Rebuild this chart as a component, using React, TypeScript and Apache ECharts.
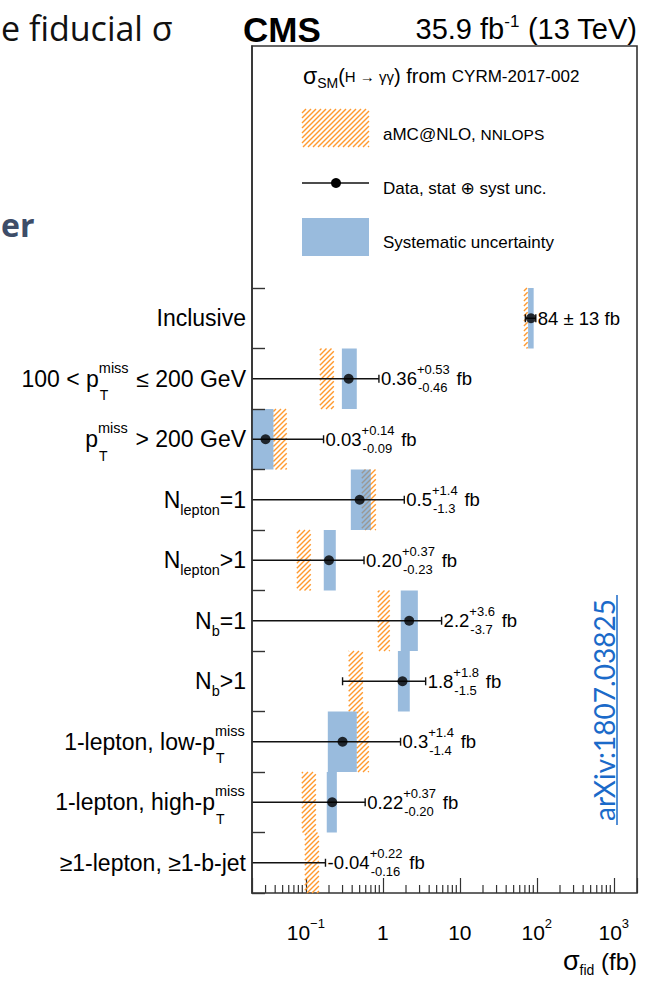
import React, { useEffect, useRef } from 'react';
import * as echarts from 'echarts';

const FONT = "'Liberation Sans', Arial, 'DejaVu Sans', sans-serif";
const SLIDE_FONT = "'Open Sans', Lato, sans-serif";

// ---------------- data ----------------
const legendRows = ['legend-title', 'legend-theory', 'legend-data', 'legend-syst'];
const categories = [
  'Inclusive',
  '100 < pTmiss ≤ 200 GeV',
  'pTmiss > 200 GeV',
  'Nlepton=1',
  'Nlepton>1',
  'Nb=1',
  'Nb>1',
  '1-lepton, low-pTmiss',
  '1-lepton, high-pTmiss',
  '≥1-lepton, ≥1-b-jet',
];
const categoryLabels = [
  '{m|Inclusive}',
  '{m|100 < p}{sp|miss}{st|T}{m| ≤ 200 GeV}',
  '{m|p}{sp|miss}{st|T}{m| > 200 GeV}',
  '{m|N}{sb|lepton}{m|=1}',
  '{m|N}{sb|lepton}{m|>1}',
  '{m|N}{sb|b}{m|=1}',
  '{m|N}{sb|b}{m|>1}',
  '{m|1-lepton, low-p}{sp|miss}{st|T}',
  '{m|1-lepton, high-p}{sp|miss}{st|T}',
  '{m|≥1-lepton, ≥1-b-jet}',
];
const measured = [84, 0.36, 0.03, 0.5, 0.2, 2.2, 1.8, 0.3, 0.22, -0.04];
const errUp = [13, 0.53, 0.14, 1.4, 0.37, 3.6, 1.8, 1.4, 0.37, 0.22];
const errDown = [13, 0.46, 0.09, 1.3, 0.23, 3.7, 1.5, 1.4, 0.2, 0.16];
const valueText = ['84', '0.36', '0.03', '0.5', '0.20', '2.2', '1.8', '0.3', '0.22', '-0.04'];
const upText = ['13', '+0.53', '+0.14', '+1.4', '+0.37', '+3.6', '+1.8', '+1.4', '+0.37', '+0.22'];
const downText = ['13', '-0.46', '-0.09', '-1.3', '-0.23', '-3.7', '-1.5', '-1.4', '-0.20', '-0.16'];
const symmetricLabel = [true, false, false, false, false, false, false, false, false, false];
const systLo = [77, 0.294, 0.01, 0.384, 0.171, 1.71, 1.57, 0.193, 0.187, null];
const systHi = [91, 0.459, 0.038, 0.698, 0.245, 2.85, 2.24, 0.459, 0.253, null];
const theoryLo = [68, 0.152, 0.038, 0.533, 0.0764, 0.86, 0.36, 0.459, 0.0887, 0.097];
const theoryHi = [76, 0.231, 0.0565, 0.811, 0.116, 1.23, 0.55, 0.658, 0.135, 0.148];
const majorExponents = [-1, 0, 1, 2, 3];
const majorLabels = ['{b|10}{sp|−1}', '{b|1}', '{b|10}', '{b|10}{sp|2}', '{b|10}{sp|3}'];
const minorTicks = [
  0.03, 0.04, 0.05, 0.06, 0.07, 0.08, 0.09,
  0.2, 0.3, 0.4, 0.5, 0.6, 0.7, 0.8, 0.9,
  2, 3, 4, 5, 6, 7, 8, 9,
  20, 30, 40, 50, 60, 70, 80, 90,
  200, 300, 400, 500, 600, 700, 800, 900,
];
const X_MIN = 0.02;
const X_MAX = 2000;

// ---------------- styles ----------------
const ORANGE = '#ff9a30';
const BLUE = 'rgba(98,151,203,0.65)';
const FRAME = '#333333';
const ARXIV_BLUE = '#1b6ac9';

const yCats = [...legendRows, ...categories];

function hatchSegments(x1: number, y1: number, x2: number, y2: number, step: number) {
  const segs: number[][] = [];
  const cStart = Math.ceil((x1 + y1) / step) * step;
  for (let c = cStart; c <= x2 + y2; c += step) {
    const sx = Math.max(x1, c - y2);
    const ex = Math.min(x2, c - y1);
    if (ex <= sx) continue;
    segs.push([sx, c - sx, ex, c - ex]);
  }
  return segs;
}
function hatchPath(x1: number, y1: number, x2: number, y2: number, step: number) {
  return hatchSegments(x1, y1, x2, y2, step)
    .map((s) => `M${s[0].toFixed(2)} ${s[1].toFixed(2)}L${s[2].toFixed(2)} ${s[3].toFixed(2)}`)
    .join('');
}

function valueLabel(i: number) {
  if (symmetricLabel[i]) return `{m|${valueText[i]} ± ${upText[i]} fb}`;
  return `{m|${valueText[i]}}{sp|${upText[i]}}{sb|${downText[i]}}{m|fb}`;
}

const VALUE_RICH = {
  m: { fontSize: 18.5, fontFamily: FONT, fill: '#000', lineHeight: 36, align: 'left' },
  sp: { fontSize: 13, fontFamily: FONT, fill: '#000', lineHeight: 36, height: 18, verticalAlign: 'top', width: 1, align: 'left' },
  sb: { fontSize: 13, fontFamily: FONT, fill: '#000', lineHeight: 36, height: 18, verticalAlign: 'bottom', align: 'left', padding: [0, 9, 0, 0] },
};

const Y_RICH = {
  m: { fontSize: 23, fontFamily: FONT, color: '#000', lineHeight: 56, align: 'left' },
  sp: { fontSize: 14.5, fontFamily: FONT, color: '#000', lineHeight: 56, height: 34, verticalAlign: 'top', width: 1, align: 'left' },
  st: { fontSize: 14, fontFamily: FONT, color: '#000', lineHeight: 56, height: 23, verticalAlign: 'bottom', width: 30, align: 'left' },
  sb: { fontSize: 14.5, fontFamily: FONT, color: '#000', lineHeight: 56, height: 36, verticalAlign: 'bottom', align: 'left' },
};

const X_RICH = {
  b: { fontSize: 21, fontFamily: FONT, color: '#000', lineHeight: 34 },
  sp: { fontSize: 13, fontFamily: FONT, color: '#000', lineHeight: 34, height: 17, verticalAlign: 'top' },
};

function legendHatch(x1: number, y1: number, x2: number, y2: number) {
  return hatchSegments(x1, y1, x2, y2, 5).map((s) => ({
    type: 'line',
    shape: { x1: s[0], y1: s[1], x2: s[2], y2: s[3] },
    style: { stroke: ORANGE, lineWidth: 1.4 },
  }));
}

function buildOption() {
  const bandHeight = (cs: any) => cs.height / yCats.length;

  const theorySeries = {
    type: 'custom',
    name: 'aMC@NLO, NNLOPS',
    z: 2,
    data: categories.map((c, i) => [theoryHi[i], c, theoryLo[i]]),
    encode: { x: 0, y: 1 },
    renderItem: (params: any, api: any) => {
      const cs = params.coordSys;
      const hi = api.value(0);
      const cat = api.value(1);
      const lo = api.value(2);
      const p = api.coord([hi, cat]);
      const xl = lo > X_MIN ? api.coord([lo, cat])[0] : cs.x;
      const bh = bandHeight(cs);
      return {
        type: 'path',
        shape: { pathData: hatchPath(xl, p[1] - bh / 2, p[0], p[1] + bh / 2, 5) },
        style: { fill: 'none', stroke: ORANGE, lineWidth: 1.4 },
      };
    },
  };

  const systSeries = {
    type: 'custom',
    name: 'Systematic uncertainty',
    z: 3,
    data: categories
      .map((c, i) => (systHi[i] == null ? null : [systHi[i], c, systLo[i]]))
      .filter((d) => d != null),
    encode: { x: 0, y: 1 },
    renderItem: (params: any, api: any) => {
      const cs = params.coordSys;
      const hi = api.value(0);
      const cat = api.value(1);
      const lo = api.value(2);
      const p = api.coord([hi, cat]);
      const xl = lo > X_MIN ? api.coord([lo, cat])[0] : cs.x;
      const bh = bandHeight(cs);
      return {
        type: 'rect',
        shape: { x: xl, y: p[1] - bh / 2, width: p[0] - xl, height: bh },
        style: { fill: BLUE },
      };
    },
  };

  const errorSeries = {
    type: 'custom',
    name: 'Data, stat ⊕ syst unc.',
    z: 4,
    data: categories.map((c, i) => [measured[i] + errUp[i], c, measured[i], errDown[i], i]),
    encode: { x: 0, y: 1 },
    renderItem: (params: any, api: any) => {
      const cs = params.coordSys;
      const hi = api.value(0);
      const cat = api.value(1);
      const val = api.value(2);
      const dn = api.value(3);
      const idx = api.value(4);
      const p = api.coord([hi, cat]);
      const lo = val - dn;
      const loIn = lo > X_MIN;
      const xl = loIn ? api.coord([lo, cat])[0] : cs.x;
      const lineStyle = { stroke: '#111', lineWidth: 1.4 };
      const children: any[] = [
        { type: 'line', shape: { x1: xl, y1: p[1], x2: p[0], y2: p[1] }, style: lineStyle },
        { type: 'line', shape: { x1: p[0], y1: p[1] - 4, x2: p[0], y2: p[1] + 4 }, style: lineStyle },
      ];
      if (loIn) {
        children.push({ type: 'line', shape: { x1: xl, y1: p[1] - 4, x2: xl, y2: p[1] + 4 }, style: lineStyle });
      }
      children.push({
        type: 'text',
        x: p[0] + 2,
        y: p[1],
        style: {
          text: valueLabel(idx),
          rich: VALUE_RICH,
          fill: '#000',
          fontSize: 18.5,
          fontFamily: FONT,
          align: 'left',
          verticalAlign: 'middle',
        },
      });
      return { type: 'group', children };
    },
  };

  const pointSeries = {
    type: 'scatter',
    name: 'Data',
    z: 5,
    symbol: 'circle',
    symbolSize: 10,
    itemStyle: { color: '#000' },
    data: categories.map((c, i) => [measured[i], c]).filter((d) => (d[0] as number) > 0),
  };

  const minorTickSeries = {
    type: 'custom',
    name: 'minor ticks',
    z: 6,
    silent: true,
    data: minorTicks.map((v) => [v, categories[0]]),
    encode: { x: 0, y: 1 },
    renderItem: (params: any, api: any) => {
      const cs = params.coordSys;
      const x = api.coord([api.value(0), api.value(1)])[0];
      const bottom = cs.y + cs.height;
      return {
        type: 'line',
        shape: { x1: x, y1: bottom, x2: x, y2: bottom - 8 },
        style: { stroke: FRAME, lineWidth: 1.2 },
      };
    },
  };

  const graphic: any[] = [
    // slide fragments around the figure
    {
      type: 'text', x: 1, y: 28,
      style: { text: 'e fiducial σ', font: `34px ${SLIDE_FONT}`, fill: '#111', align: 'left', verticalAlign: 'middle' },
    },
    {
      type: 'text', x: 1, y: 224,
      style: { text: 'er', font: `bold 32px ${SLIDE_FONT}`, fill: '#3d4d68', align: 'left', verticalAlign: 'middle' },
    },
    {
      type: 'text', x: 604, y: 710, rotation: Math.PI / 2,
      style: { text: 'arXiv:1807.03825', font: `28px Lato, ${SLIDE_FONT}`, fill: ARXIV_BLUE, align: 'center', verticalAlign: 'middle' },
    },
    {
      type: 'line', shape: { x1: 617, y1: 595, x2: 617, y2: 825 },
      style: { stroke: ARXIV_BLUE, lineWidth: 1.5 },
    },
    // header
    {
      type: 'text', x: 243, y: 29,
      style: { text: 'CMS', font: `bold 35px ${FONT}`, fill: '#000', align: 'left', verticalAlign: 'middle' },
    },
    {
      type: 'text', x: 637, y: 29,
      style: {
        text: '{m|35.9 fb}{sp|-1}{m| (13 TeV)}',
        align: 'right', verticalAlign: 'middle',
        rich: {
          m: { fontSize: 29, fontFamily: FONT, fill: '#000', lineHeight: 40 },
          sp: { fontSize: 17, fontFamily: FONT, fill: '#000', lineHeight: 40, height: 24, verticalAlign: 'top' },
        },
      },
    },
    // legend
    {
      type: 'text', x: 303, y: 76,
      style: {
        text: '{s|σ}{sb|SM}{m|(}{h|H → γγ}{m|) from }{c|CYRM-2017-002}',
        align: 'left', verticalAlign: 'middle',
        rich: {
          s: { fontSize: 23, fontFamily: FONT, fill: '#000', lineHeight: 30, align: 'left' },
          sb: { fontSize: 14, fontFamily: FONT, fill: '#000', lineHeight: 30, height: 16, verticalAlign: 'bottom', align: 'left' },
          m: { fontSize: 20, fontFamily: FONT, fill: '#000', lineHeight: 30, align: 'left' },
          h: { fontSize: 15, fontFamily: FONT, fill: '#000', lineHeight: 30, align: 'left' },
          c: { fontSize: 17, fontFamily: FONT, fill: '#000', lineHeight: 30, align: 'left' },
        },
      },
    },
    { type: 'group', children: legendHatch(302, 109, 369, 147) },
    {
      type: 'text', x: 383, y: 134,
      style: {
        text: '{a|aMC@NLO, }{n|NNLOPS}',
        align: 'left', verticalAlign: 'middle',
        rich: {
          a: { fontSize: 17, fontFamily: FONT, fill: '#000', align: 'left' },
          n: { fontSize: 15.5, fontFamily: FONT, fill: '#000', align: 'left' },
        },
      },
    },
    { type: 'line', shape: { x1: 302, y1: 183, x2: 369, y2: 183 }, style: { stroke: '#111', lineWidth: 1.5 } },
    { type: 'circle', shape: { cx: 336, cy: 183, r: 5 }, style: { fill: '#000' } },
    {
      type: 'text', x: 383, y: 188,
      style: { text: 'Data, stat ⊕ syst unc.', font: `17px ${FONT}`, fill: '#000', align: 'left', verticalAlign: 'middle' },
    },
    { type: 'rect', shape: { x: 302, y: 218, width: 67, height: 38 }, style: { fill: BLUE } },
    {
      type: 'text', x: 383, y: 242,
      style: { text: 'Systematic uncertainty', font: `17px ${FONT}`, fill: '#000', align: 'left', verticalAlign: 'middle' },
    },
    // x axis title
    {
      type: 'text', x: 637, y: 961,
      style: {
        text: '{s|σ}{sb|fid}{m| (fb)}',
        align: 'right', verticalAlign: 'middle',
        rich: {
          s: { fontSize: 27, fontFamily: FONT, fill: '#000', lineHeight: 34 },
          sb: { fontSize: 14, fontFamily: FONT, fill: '#000', lineHeight: 34, height: 16, verticalAlign: 'bottom' },
          m: { fontSize: 24, fontFamily: FONT, fill: '#000', lineHeight: 34 },
        },
      },
    },
  ];

  return {
    animation: false,
    backgroundColor: '#fff',
    textStyle: { fontFamily: FONT },
    grid: {
      left: 252, top: 46, width: 385, height: 847,
      show: true, borderColor: FRAME, borderWidth: 1.6, backgroundColor: 'transparent',
      containLabel: false, outerBoundsMode: 'none',
    },
    xAxis: {
      type: 'log', logBase: 10, min: X_MIN, max: X_MAX, splitNumber: 5,
      axisLine: { show: false },
      splitLine: { show: false },
      minorTick: { show: false },
      axisTick: { show: true, inside: true, length: 15, lineStyle: { color: FRAME, width: 1.2 } },
      axisLabel: {
        margin: 22,
        rich: X_RICH,
        formatter: (v: number) => {
          const e = Math.log10(v);
          const r = Math.round(e);
          if (Math.abs(e - r) > 1e-6) return '';
          const k = majorExponents.indexOf(r);
          return k >= 0 ? majorLabels[k] : '';
        },
      },
    },
    yAxis: {
      type: 'category', inverse: true, data: yCats, z: 10,
      axisLine: { show: true, lineStyle: { color: FRAME, width: 1.6 } },
      splitLine: { show: false },
      axisTick: {
        show: true, inside: true, length: 13,
        interval: (i: number) => i >= legendRows.length,
        lineStyle: { color: FRAME, width: 1.4 },
      },
      axisLabel: {
        interval: 0,
        margin: 6,
        rich: Y_RICH,
        formatter: (_v: string, i: number) => {
          const k = i - legendRows.length;
          return k >= 0 ? categoryLabels[k] : '';
        },
      },
    },
    series: [theorySeries, systSeries, errorSeries, pointSeries, minorTickSeries],
    graphic,
  };
}

export default function App() {
  const ref = useRef<HTMLDivElement>(null);
  useEffect(() => {
    document.body.style.margin = '0';
    const chart = echarts.init(ref.current as HTMLDivElement, null, { renderer: 'svg', width: 652, height: 981 });
    chart.setOption(buildOption() as any);
    return () => chart.dispose();
  }, []);
  return (
    <div
      ref={ref}
      style={{ position: 'absolute', left: 0, top: 0, width: 652, height: 981, background: '#fff' }}
    />
  );
}
